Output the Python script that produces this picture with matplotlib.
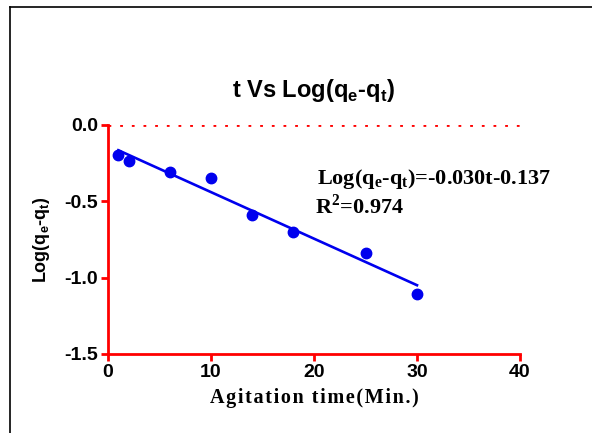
import numpy as np
import matplotlib
matplotlib.use('Agg')
import matplotlib.pyplot as plt
from matplotlib.lines import Line2D

# data
t = [1, 2, 6, 10, 14, 18, 25, 30]
logq = [-0.20, -0.235, -0.31, -0.35, -0.59, -0.70, -0.84, -1.11]
# fitted line end points
fit_t = [1, 30]
fit_y = [-0.167, -1.05]
xticks = [0, 10, 20, 30, 40]
yticks = [0.0, -0.5, -1.0, -1.5]

plt.rcParams['mathtext.fontset'] = 'custom'
plt.rcParams['mathtext.rm'] = 'Liberation Sans:bold'
plt.rcParams['mathtext.bf'] = 'Liberation Serif:bold'

fig = plt.figure(figsize=(5.92, 4.33), dpi=100)
ax = fig.add_axes([108 / 592, 1 - 354 / 433, 412 / 592, (354 - 124.7) / 433])

ax.plot(fit_t, fit_y, color='#0000ee', lw=1.9, zorder=3)
ax.plot(t, logq, 'o', color='#0000ee', ms=7.5, zorder=4)
ax.axhline(0, color='#ff0000', ls=(0, (1, 3.2)), lw=2, zorder=2)

ax.set_xlim(0, 40)
ax.set_ylim(-1.5, 0)
ax.set_xticks(xticks)
ax.set_yticks(yticks)
ax.set_yticklabels(['%.1f' % v for v in yticks])
for s in ['top', 'right']:
    ax.spines[s].set_visible(False)
for s in ['left', 'bottom']:
    ax.spines[s].set_color('red')
    ax.spines[s].set_linewidth(2)
ax.tick_params(colors='red', width=2, length=5, direction='out', pad=2)
for lab in ax.get_xticklabels() + ax.get_yticklabels():
    lab.set_color('black')
    lab.set_fontfamily('Liberation Sans')
    lab.set_fontweight('bold')
    lab.set_fontsize(14)

ax.set_title(r't Vs Log(q$_\mathrm{e}$-q$_\mathrm{t}$)', fontfamily='Liberation Sans',
             fontweight='bold', fontsize=17, pad=20)
ax.set_ylabel(r'Log(q$_\mathrm{e}$-q$_\mathrm{t}$)', fontfamily='Liberation Sans',
              fontweight='bold', fontsize=13, labelpad=9)
ax.set_xlabel('A g i t a t i o n   t i m e ( M i n . )'.replace('   ', '\u2009\u2009').replace(' ', '\u200a'),
              fontfamily='Liberation Serif', fontweight='bold', fontsize=14.5, labelpad=5)

ax.text(20.3, -0.39, r'Log(q$_\mathbf{e}$-q$_\mathbf{t}$)=-0.030t-0.137',
        fontfamily='Liberation Serif', fontweight='bold', fontsize=16)
ax.text(20.1, -0.585, r'R$^\mathbf{2}$=0.974',
        fontfamily='Liberation Serif', fontweight='bold', fontsize=16)

# outer frame (only left and top edges visible)
fig.add_artist(Line2D([9.5 / 592, 9.5 / 592], [0, 1 - 7 / 433], color='black', lw=1.2,
                      transform=fig.transFigure))
fig.add_artist(Line2D([9.5 / 592, 1], [1 - 7 / 433, 1 - 7 / 433], color='black', lw=1.2,
                      transform=fig.transFigure))

fig.savefig('out.png', dpi=100)
